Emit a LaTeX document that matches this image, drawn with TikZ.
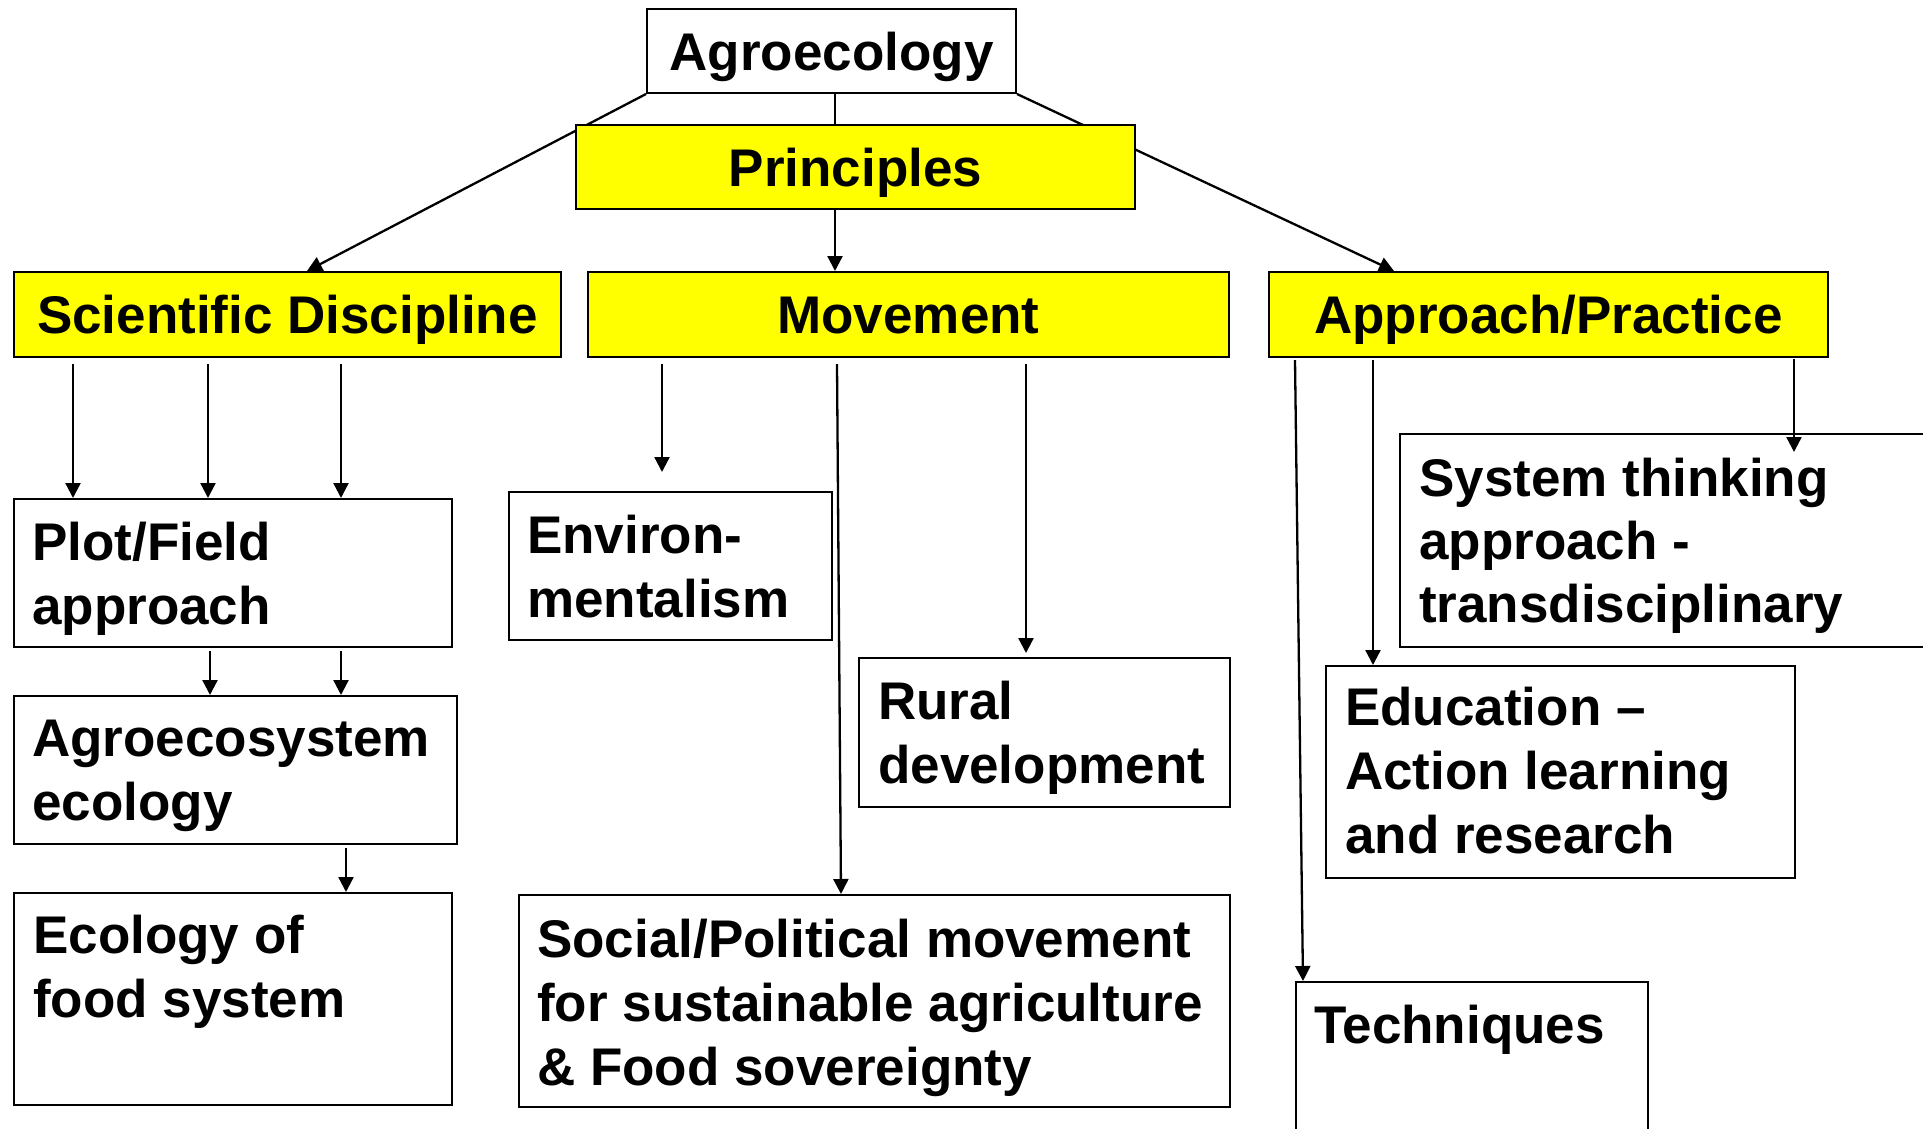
\documentclass[tikz,border=0pt]{standalone}
\usepackage{fontspec}
\setmainfont{Liberation Sans}
\usetikzlibrary{arrows.meta,calc}
\pgfdeclarelayer{bg}
\pgfsetlayers{bg,main}
\definecolor{yel}{RGB}{255,255,0}
\newcommand{\mylines}[1]{\begin{tabular}[t]{@{}l@{}}#1\end{tabular}}
\begin{document}
\begin{tikzpicture}[x=1pt,y=-1pt,
  wbox/.style={draw=black,line width=2pt,inner sep=0pt,anchor=north west},
  ybox/.style={draw=black,fill=yel,line width=2pt,inner sep=0pt,anchor=north west,
    font=\fontsize{53}{64}\selectfont\bfseries,text height=38pt,text depth=0pt},
  txt/.style={inner sep=0pt,font=\fontsize{53}{64}\selectfont\bfseries,anchor=base west},
  con/.style={line width=2.3pt},
  arr/.style={con,-{Triangle[length=15pt,width=15pt]}}]
\useasboundingbox (0,0) rectangle (1923,1128);

% top boxes
\node[wbox,minimum width=369,minimum height=84,font=\fontsize{53}{64}\selectfont\bfseries,text height=38pt,text depth=0pt] (agro) at (646,8) {Agroecology};
\node[ybox,minimum width=559,minimum height=84] (prin) at (575,124) {Principles};
\node[ybox,minimum width=547,minimum height=85] (sci) at (13,271) {Scientific Discipline};
\node[ybox,minimum width=641,minimum height=85] (mov) at (587,271) {Movement};
\node[ybox,minimum width=559,minimum height=85] (app) at (1268,271) {Approach/Practice};

% lower boxes
\node[wbox,minimum width=438,minimum height=148] (plot) at (13,498) {};
\node[wbox,minimum width=443,minimum height=148] (agsys) at (13,695) {};
\node[wbox,minimum width=438,minimum height=212] (efood) at (13,892) {};
\node[wbox,minimum width=323,minimum height=148] (env) at (508,491) {};
\node[wbox,minimum width=371,minimum height=149] (rural) at (858,657) {};
\node[wbox,minimum width=711,minimum height=212] (social) at (518,894) {};
\node[wbox,minimum width=560,minimum height=213] (sys) at (1399,433) {};
\node[wbox,minimum width=469,minimum height=212] (edu) at (1325,665) {};
\node[wbox,minimum width=352,minimum height=170] (tech) at (1295,981) {};

% texts
\node[txt] (plott) at (32,560) {\mylines{Plot/Field\\approach}};
\node[txt] (agsyst) at (32,756) {\mylines{Agroecosystem\\ecology}};
\node[txt] (efoodt) at (33,953) {\mylines{Ecology of\\food system}};
\node[txt] (envt) at (527,553) {\mylines{Environ-\\mentalism}};
\node[txt] (ruralt) at (878,719) {\mylines{Rural\\development}};
\node[txt] (socialt) at (537,957) {\mylines{Social/Political movement\\for sustainable agriculture\\\& Food sovereignty}};
\node[txt,font=\fontsize{53}{63}\selectfont\bfseries] (syst) at (1419,496) {\mylines{System thinking\\approach -\\transdisciplinary}};
\node[txt] (edut) at (1345,725) {\mylines{Education –\\Action learning\\and research}};
\node[txt] (techt) at (1314,1043) {Techniques};

\coordinate (envarr) at (662,472);
\coordinate (a1) at ($(agro.south west)+(189,0)$);
\coordinate (p1) at ($(prin.south west)+(260,0)$);

\begin{pgfonlayer}{bg}
\draw[arr] (agro.south west) -- ($(sci.north west)+(294,0)$);
\draw[con] (a1) -- (a1 |- prin.north);
\draw[arr] (p1) -- (p1 |- mov.north);
\draw[arr] (agro.south east) -- ($(app.north west)+(126,0)$);

\foreach \dx in {60,195,328}
  \draw[arr] ($(sci.south west)+(\dx,6)$) -- ($(plot.north west)+(\dx,0)$);
\foreach \dx in {197,328}
  \draw[arr] ($(plot.south west)+(\dx,3)$) -- ($(agsys.north west)+(\dx,0)$);
\draw[arr] ($(agsys.south west)+(333,3)$) -- ($(efood.north west)+(333,0)$);

\draw[arr] ($(mov.south west)+(75,6)$) -- (envarr);
\draw[arr] ($(mov.south west)+(250,6)$) -- ($(social.north west)+(323,0)$);
\draw[arr] ($(mov.south west)+(439,6)$) -- ($(rural.north west)+(168,-4)$);

\draw[arr] ($(app.south west)+(27,2)$) -- ($(tech.north west)+(8,0)$);
\draw[arr] ($(app.south west)+(105,2)$) -- ($(edu.north west)+(48,0)$);
\draw[arr] ($(app.south west)+(526,1)$) -- ($(sys.north west)+(395,19)$);
\end{pgfonlayer}
\end{tikzpicture}
\end{document}
